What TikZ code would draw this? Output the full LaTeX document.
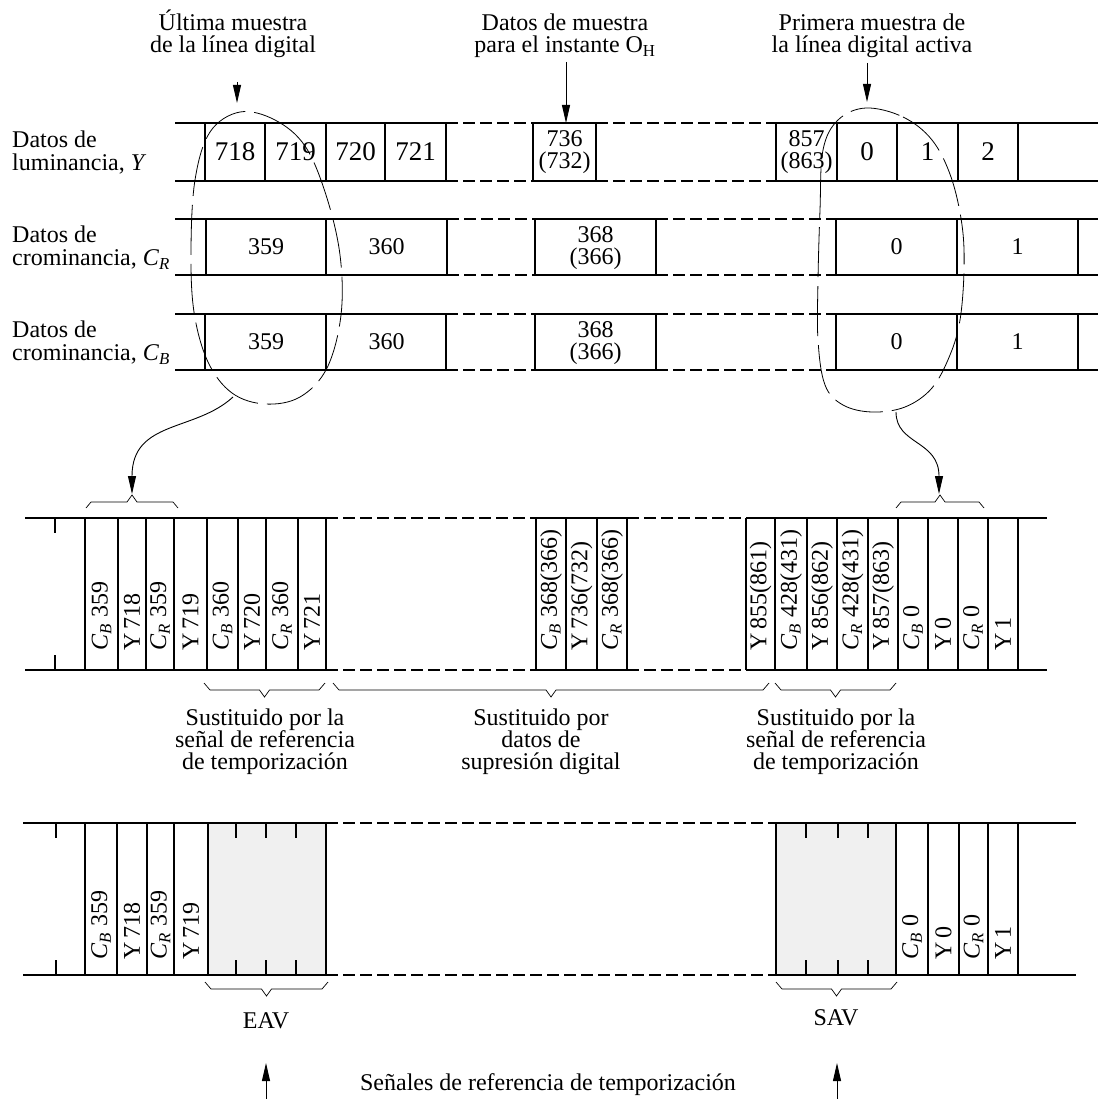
\documentclass[tikz,border=0pt]{standalone}
\usepackage{fontspec}
\setmainfont{Liberation Serif}
\usetikzlibrary{arrows.meta}
\definecolor{boxgray}{RGB}{240,240,240}
\newcommand\CsubB{\textit{C}\textsubscript{\textit{B}}}
\newcommand\CsubR{\textit{C}\textsubscript{\textit{R}}}
\newcommand\fsz[2]{\fontsize{#1}{#2}\selectfont\lineskiplimit=-30pt\relax}
\newcommand\brUp[3]{\draw[bracel] (#1,#3) -- ++(5,-6) -- ({(#1+#2)/2-5},#3-6) -- ({(#1+#2)/2},#3-13) -- ({(#1+#2)/2+5},#3-6) -- (#2-5,#3-6) -- (#2,#3);}
\newcommand\brDn[3]{\draw[bracel] (#1,#3) -- ++(6,7) -- ({(#1+#2)/2-5},#3+7) -- ({(#1+#2)/2},#3+14) -- ({(#1+#2)/2+5},#3+7) -- (#2-6,#3+7) -- (#2,#3);}
\tikzset{
  rowline/.style={line width=2pt},
  dashrow/.style={line width=2pt, dash pattern=on 12pt off 5pt},
  thinbar/.style={line width=1.1pt},
  loopline/.style={line width=0.8pt, dash pattern=on 50pt off 9pt},
  bracel/.style={line width=0.7pt},
  conn/.style={line width=0.9pt, -{Triangle[length=18pt,width=8pt]}},
  txt/.style={font=\fsz{24}{22}, inner sep=0pt, align=center},
  lbl/.style={font=\fsz{24}{23}, inner sep=0pt, align=left, anchor=west},
  numY/.style={font=\fsz{27}{22}, inner sep=0pt},
  num/.style={font=\fsz{24}{22.5}, inner sep=0pt, align=center},
  vlab/.style={font=\fsz{24}{24}, inner sep=0pt, rotate=90, anchor=west},
}
\begin{document}
\begin{tikzpicture}[x=1pt,y=-1pt]
\useasboundingbox (0,0) rectangle (1098,1099);

% ---------- top texts ----------
\node[txt] (tUlt) at (233,34) {Última muestra\\de la línea digital};
\node[txt] (tOH) at (565,36) {Datos de muestra\\para el instante O\textsubscript{H}};
\node[txt] (tPri) at (872,36) {Primera muestra de\\la línea digital activa};

% ---------- row labels ----------
\node[lbl] (lY) at (12,153) {Datos de\\luminancia, \textit{Y}};
\node[lbl] (lR) at (12,248) {Datos de\\crominancia, \CsubR};
\node[lbl] (lB) at (12,343) {Datos de\\crominancia, \CsubB};

% ---------- Y row ----------
\draw[rowline] (175,123) -- (446,123) (175,181) -- (446,181);
\draw[dashrow] (446,123) -- (533,123) (446,181) -- (533,181);
\draw[rowline] (533,123) rectangle (596,181);
\draw[dashrow] (596,123) -- (776,123) (596,181) -- (776,181);
\draw[rowline] (776,123) -- (1098,123) (776,181) -- (1098,181);
\foreach \x in {205,265,326,385,446,776,837,897,958,1018}
  \draw[rowline] (\x,123) -- (\x,181);
\node[numY] (n718) at (235,152) {718};
\node[numY] (n719) at (295.5,152) {719};
\node[numY] (n720) at (355.5,152) {720};
\node[numY] (n721) at (415.5,152) {721};
\node[num] (n736) at (564.5,152) {736\\(732)};
\node[num] (n857) at (806.5,152) {857\\(863)};
\node[numY] (n0) at (867,152) {0};
\node[numY] (n1) at (927.5,152) {1};
\node[numY] (n2) at (988,152) {2};

% ---------- CR row ----------
\draw[rowline] (175,219) -- (447,219) (175,275) -- (447,275);
\draw[dashrow] (447,219) -- (535,219) (447,275) -- (535,275);
\draw[rowline] (535,219) rectangle (656,275);
\draw[dashrow] (656,219) -- (836,219) (656,275) -- (836,275);
\draw[rowline] (836,219) -- (1098,219) (836,275) -- (1098,275);
\foreach \x in {206,326,447,836,957,1078}
  \draw[rowline] (\x,219) -- (\x,275);
\node[num] (r359) at (266,247) {359};
\node[num] (r360) at (386.5,247) {360};
\node[num] (r368) at (595.5,248) {368\\(366)};
\node[num] (r0) at (896.5,247) {0};
\node[num] (r1) at (1017.5,247) {1};

% ---------- CB row ----------
\draw[rowline] (175,314) -- (446,314) (175,370) -- (446,370);
\draw[dashrow] (446,314) -- (535,314) (446,370) -- (535,370);
\draw[rowline] (535,314) rectangle (656,370);
\draw[dashrow] (656,314) -- (836,314) (656,370) -- (836,370);
\draw[rowline] (836,314) -- (1098,314) (836,370) -- (1098,370);
\foreach \x in {205,326,446,836,957,1078}
  \draw[rowline] (\x,314) -- (\x,370);
\node[num] (b359) at (266,342) {359};
\node[num] (b360) at (386.5,342) {360};
\node[num] (b368) at (595.5,343) {368\\(366)};
\node[num] (b0) at (896.5,342) {0};
\node[num] (b1) at (1017.5,342) {1};

% ---------- top arrows ----------
\coordinate (a1s) at (237,82);  \coordinate (a1e) at (237,103);
\coordinate (a2s) at (566,62);  \coordinate (a2e) at (566,123);
\coordinate (a3s) at (867,63);  \coordinate (a3e) at (867,102);
\draw[conn] (a1s) -- (a1e);
\draw[conn] (a2s) -- (a2e);
\draw[conn] (a3s) -- (a3e);

% ---------- dashed loops ----------
\draw[loopline] plot[smooth cycle, tension=0.6] coordinates {(240,112) (275,120) (305,146) (326,195) (340,255) (341,315) (327,368) (300,397) (265,404) (232,393) (208,362) (194,312) (191,250) (195,180) (210,132)};
\draw[loopline] plot[smooth cycle, tension=0.6] coordinates {(866,108) (903,117) (932,140) (951,177) (962,225) (964,270) (960,320) (950,355) (932,388) (905,407) (872,412) (843,405) (825,385) (818,340) (818,280) (820,210) (823,150) (838,120)};

\coordinate (c1s) at (233,397); \coordinate (c1e) at (132,494);
\coordinate (c2s) at (896,412); \coordinate (c2e) at (939,494);
\draw[conn] (c1s) .. controls (195,432) and (132,420) .. (c1e);
\draw[conn] (c2s) .. controls (896,445) and (939,440) .. (c2e);

% ---------- middle row ----------
\brUp{86}{178}{508}
\brUp{896}{984}{508}
\draw[rowline] (25,518) -- (326,518) (25,670) -- (326,670);
\draw[dashrow] (326,518) -- (536,518) (326,670) -- (536,670);
\draw[rowline] (536,518) -- (627,518) (536,670) -- (627,670);
\draw[dashrow] (627,518) -- (746,518) (627,670) -- (746,670);
\draw[rowline] (746,518) -- (1047,518) (746,670) -- (1047,670);
\draw[rowline] (55,518) -- (55,533) (55,655) -- (55,670);
\foreach \x in {85,118,146,174,207,238,266,298,566,597,775,807,837,868,898,928,958,988,1018}
  \draw[rowline] (\x,518) -- (\x,670);
\foreach \x in {326,536,627,746}
  \draw[thinbar] (\x,518) -- (\x,670);
\node[vlab] (m1) at (101.5,651) {\CsubB\ 359};
\node[vlab] (m2) at (132,651) {Y\,718};
\node[vlab] (m3) at (160,651) {\CsubR\ 359};
\node[vlab] (m4) at (190.5,651) {Y\,719};
\node[vlab] (m5) at (222.5,651) {\CsubB\ 360};
\node[vlab] (m6) at (252,651) {Y\,720};
\node[vlab] (m7) at (282,651) {\CsubR\ 360};
\node[vlab] (m8) at (312,651) {Y\,721};
\node[vlab] (m9) at (551,651) {\CsubB\ 368(366)};
\node[vlab] (m10) at (581.5,651) {Y\,736(732)};
\node[vlab] (m11) at (612,651) {\CsubR\ 368(366)};
\node[vlab] (m12) at (760.5,651) {Y\,855(861)};
\node[vlab] (m13) at (791,651) {\CsubB\ 428(431)};
\node[vlab] (m14) at (822,651) {Y\,856(862)};
\node[vlab] (m15) at (852.5,651) {\CsubR\ 428(431)};
\node[vlab] (m16) at (883,651) {Y\,857(863)};
\node[vlab] (m17) at (913,651) {\CsubB\ 0};
\node[vlab] (m18) at (943,651) {Y\,0};
\node[vlab] (m19) at (973,651) {\CsubR\ 0};
\node[vlab] (m20) at (1003,651) {Y\,1};

\brDn{204}{325}{683}
\brDn{333}{769}{683}
\brDn{775}{896}{683}
\node[txt] (s1) at (265,742) {Sustituido por la\\señal de referencia\\de temporización};
\node[txt] (s2) at (541,742) {Sustituido por\\datos de\\supresión digital};
\node[txt] (s3) at (836,742) {Sustituido por la\\señal de referencia\\de temporización};

% ---------- bottom row ----------
\fill[boxgray] (208,823) rectangle (326,975);
\fill[boxgray] (776,823) rectangle (896,975);
\draw[rowline] (23,823) -- (326,823) (23,975) -- (326,975);
\draw[dashrow] (326,823) -- (776,823) (326,975) -- (776,975);
\draw[rowline] (776,823) -- (1076,823) (776,975) -- (1076,975);
\foreach \x in {56,236,266,296,806,838,868}
  \draw[rowline] (\x,823) -- (\x,838) (\x,960) -- (\x,975);
\foreach \x in {85,116.5,147,174,208,326,776,896,928,959,988,1018}
  \draw[rowline] (\x,823) -- (\x,975);
\node[vlab] (q1) at (101,960) {\CsubB\ 359};
\node[vlab] (q2) at (132,960) {Y\,718};
\node[vlab] (q3) at (160.5,960) {\CsubR\ 359};
\node[vlab] (q4) at (191,960) {Y\,719};
\node[vlab] (q5) at (912,960) {\CsubB\ 0};
\node[vlab] (q6) at (943.5,960) {Y\,0};
\node[vlab] (q7) at (973.5,960) {\CsubR\ 0};
\node[vlab] (q8) at (1003,960) {Y\,1};

\brDn{205}{328}{982}
\brDn{776}{897}{982}
\node[txt] (eav) at (266,1021) {EAV};
\node[txt] (sav) at (836,1018) {SAV};
\node[txt] (sen) at (548,1085) {Señales de referencia de temporización};
\coordinate (u1s) at (266,1099); \coordinate (u1e) at (266,1063);
\coordinate (u2s) at (837,1099); \coordinate (u2e) at (837,1063);
\draw[conn] (u1s) -- (u1e);
\draw[conn] (u2s) -- (u2e);
\end{tikzpicture}
\end{document}
